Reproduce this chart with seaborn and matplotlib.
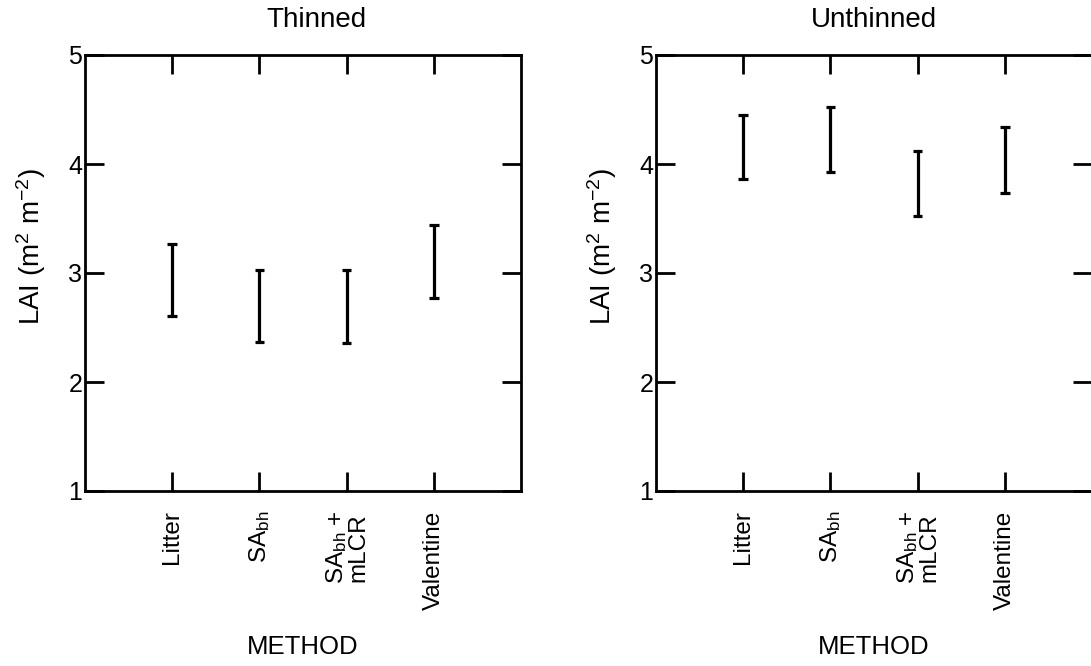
import matplotlib
matplotlib.use("Agg")
import matplotlib.pyplot as plt
import seaborn as sns
import pandas as pd

# ---- data ----
methods = ["Litter", "SAbh", "SAbh + mLCR", "Valentine"]
tick_labels = ["Litter", r"SA$_{\mathrm{bh}}$", "SA$_{\\mathrm{bh}}$ +\nmLCR", "Valentine"]
thinned_low = [2.61, 2.37, 2.36, 2.77]
thinned_high = [3.27, 3.03, 3.03, 3.44]
unthinned_low = [3.86, 3.93, 3.52, 3.73]
unthinned_high = [4.45, 4.52, 4.12, 4.34]
panel_titles = ["Thinned", "Unthinned"]
y_ticks = [1, 2, 3, 4, 5]

sns.set_theme(style="white")
plt.rcParams["font.family"] = ["Liberation Sans", "DejaVu Sans"]
plt.rcParams["mathtext.fontset"] = "custom"
plt.rcParams["mathtext.rm"] = "Liberation Sans"
plt.rcParams["mathtext.it"] = "Liberation Sans:italic"
plt.rcParams["mathtext.bf"] = "Liberation Sans:bold"
plt.rcParams["text.color"] = "black"
plt.rcParams["axes.labelcolor"] = "black"
plt.rcParams["xtick.color"] = "black"
plt.rcParams["ytick.color"] = "black"

W, H = 1091, 666
fig = plt.figure(figsize=(W / 100, H / 100), dpi=100)

def frame(lo, hi):
    rows = []
    for m, a, b in zip(methods, lo, hi):
        rows.append({"method": m, "lai": a})
        rows.append({"method": m, "lai": b})
    return pd.DataFrame(rows)

panels = [(thinned_low, thinned_high), (unthinned_low, unthinned_high)]
lefts = [85, 656]
title_x = [0.53, 0.5]
for i, (lo, hi) in enumerate(panels):
    ax = fig.add_axes([lefts[i] / W, (H - 491) / H, 436 / W, 436 / H])
    df = frame(lo, hi)
    sns.pointplot(data=df, x="method", y="lai", order=methods,
                  estimator="mean", errorbar=("pi", 100),
                  color="black", linestyle="none", marker="",
                  capsize=0.11, err_kws={"linewidth": 2.3, "solid_capstyle": "butt"},
                  ax=ax)
    ax.set_xlim(-1, 4)
    ax.set_ylim(1, 5)
    ax.set_yticks(y_ticks)
    ax.set_yticklabels([str(t) for t in y_ticks], fontsize=18)
    ax.set_xticks(range(len(methods)))
    ax.set_xticklabels(tick_labels, rotation=90, fontsize=17.5, va="top", ha="center",
                       linespacing=0.9)
    ax.tick_params(axis="both", direction="in", length=14, width=2.0,
                   top=True, right=True, bottom=True, left=True,
                   labeltop=False, labelright=False, colors="black")
    ax.tick_params(axis="y", pad=2)
    ax.tick_params(axis="x", pad=14)
    for s in ax.spines.values():
        s.set_visible(True)
        s.set_color("black")
        s.set_linewidth(2.0)
    ax.set_title(panel_titles[i], fontsize=20, x=title_x[i], pad=20, color="black")
    ax.set_xlabel("METHOD", fontsize=18.5, labelpad=18, color="black")
    ax.set_ylabel(r"LAI (m$^{2}$ m$^{-2}$)", fontsize=20, color="black")
    ax.yaxis.set_label_coords(-0.085, 0.56)
    ax.set_facecolor("white")

fig.savefig("out.png", dpi=100, facecolor="white")
